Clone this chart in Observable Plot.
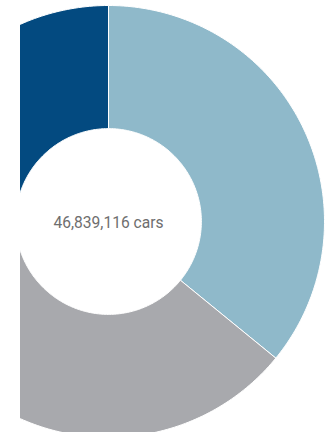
<!DOCTYPE html>
<html>
<head>
<meta charset="utf-8">
<script src="https://cdn.jsdelivr.net/npm/d3@7"></script>
<script src="https://cdn.jsdelivr.net/npm/@observablehq/plot@0.6"></script>
<style>
  html, body { margin: 0; padding: 0; background: #fff; }
  #chart { width: 328px; height: 432px; overflow: hidden; }
</style>
</head>
<body>
<div id="chart"></div>
<script>
// Data (clockwise from 12 o'clock)
const categories = ["Segment A", "Segment B", "Segment C"];
const shares = [35.9, 39.1, 25.0];
const colors = ["#8fb9ca", "#a8a9ad", "#034a80"];
const totalLabel = ["46,839,116 cars"];

const innerRatio = 0.43;

// Build slice polygons from the shares
const pie = d3.pie().sort(null).value(d => d.v)(categories.map((c, i) => ({c, v: shares[i]})));
const pts = [];
for (const s of pie) {
  const n = Math.max(2, Math.ceil((s.endAngle - s.startAngle) / (Math.PI / 180)));
  for (let k = 0; k <= n; k++) {
    const a = s.startAngle + (s.endAngle - s.startAngle) * k / n;
    pts.push({cat: s.data.c, x: Math.sin(a), y: Math.cos(a)});
  }
  for (let k = n; k >= 0; k--) {
    const a = s.startAngle + (s.endAngle - s.startAngle) * k / n;
    pts.push({cat: s.data.c, x: innerRatio * Math.sin(a), y: innerRatio * Math.cos(a)});
  }
  pts.push({cat: s.data.c, x: Math.sin(s.startAngle), y: Math.cos(s.startAngle)});
}

const R = 216; // px per unit
const W = 328, H = 432, cx = 108, cy = 221, left = 20;

const chart = Plot.plot({
  width: W,
  height: H,
  marginLeft: left,
  marginRight: 0,
  marginTop: 0,
  marginBottom: 0,
  clip: true,
  x: {domain: [(left - cx) / R, (W - cx) / R], axis: null},
  y: {domain: [-(H - cy) / R, cy / R], axis: null},
  color: {domain: categories, range: colors},
  style: {background: "white"},
  marks: [
    Plot.line(pts, {x: "x", y: "y", z: "cat", fill: "cat", stroke: "white", strokeWidth: 1, curve: "linear"}),
    Plot.text(totalLabel, {x: () => 0, y: () => 0, text: d => d, fontSize: 15.6, fill: "#6e6e6e",
      fontFamily: "Roboto, sans-serif", textAnchor: "middle", lineAnchor: "middle", dy: 1})
  ]
});
document.getElementById("chart").appendChild(chart);
</script>
</body>
</html>
